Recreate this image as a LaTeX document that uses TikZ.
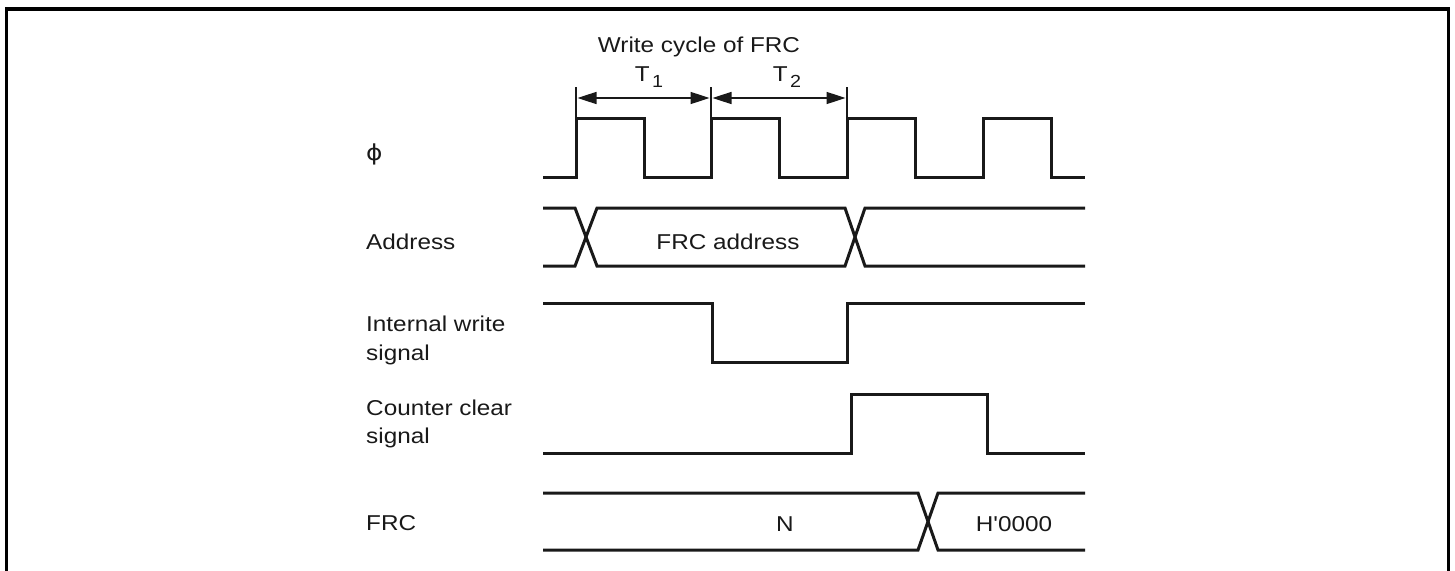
\documentclass[tikz,border=0pt]{standalone}
\usepackage{fontspec}
\setmainfont{Liberation Sans}
\newfontfamily\phifont{DejaVu Sans}
\usetikzlibrary{arrows.meta}
\begin{document}
\begin{tikzpicture}[x=1pt,y=-1pt,
  wave/.style={line width=3pt, line join=miter, color=black!90},
  frameline/.style={line width=3.4pt, line join=miter},
  tickline/.style={line width=1.3pt, color=black!90},
  dimarrow/.style={line width=1.6pt, color=black!90,
    {Triangle[length=19pt,width=12pt]}-{Triangle[length=19pt,width=12pt]},
    shorten <=1.5pt, shorten >=1.5pt},
  lbl/.style={font=\fontsize{21.5}{25}\selectfont, inner sep=0pt, xscale=1.13,
    anchor=base west, text=black!90},
  ctr/.style={font=\fontsize{21.5}{25}\selectfont, inner sep=0pt, xscale=1.13,
    anchor=base, text=black!90}]
\useasboundingbox (0,0) rectangle (1455,570);
% frame
\draw[frameline] (6.3,575) -- (6.3,9) -- (1448.5,9) -- (1448.5,575);

% labels
\node[lbl] (lphi) at (366,160) {\phifont\fontsize{22}{24}\selectfont ϕ};
\node[lbl] (laddr) at (366,249) {Address};
\node[lbl] (liw1) at (366,331) {Internal write};
\node[lbl] (liw2) at (366,360) {signal};
\node[lbl] (lcc1) at (366,415) {Counter clear};
\node[lbl] (lcc2) at (366,443) {signal};
\node[lbl] (lfrc) at (366,530) {FRC};

% title and dimension
\node[ctr] (title) at (699,52) {Write cycle of FRC};
\node[ctr] (tone) at (649,81) {T\hspace{2pt}\raisebox{-6pt}{\fontsize{17.5}{17}\selectfont 1}};
\node[ctr] (ttwo) at (787,81) {T\hspace{2pt}\raisebox{-6pt}{\fontsize{17.5}{17}\selectfont 2}};
\coordinate (k1a) at (576,87); \coordinate (k1b) at (576,118);
\coordinate (k2a) at (711,87); \coordinate (k2b) at (711,118);
\coordinate (k3a) at (847,87); \coordinate (k3b) at (847,118);
\draw[tickline] (k1a) -- (k1b);
\draw[tickline] (k2a) -- (k2b);
\draw[tickline] (k3a) -- (k3b);
\coordinate (d1) at (576,98);
\coordinate (d2) at (711,98);
\coordinate (d3) at (847,98);
\draw[dimarrow] (d1) -- (d2);
\draw[dimarrow] (d2) -- (d3);

% clock
\draw[wave] (543,177) -- (576,177) -- (576,118) -- (644,118) -- (644,177)
  -- (711,177) -- (711,118) -- (779,118) -- (779,177) -- (847,177)
  -- (847,118) -- (915,118) -- (915,177) -- (983,177) -- (983,118)
  -- (1051,118) -- (1051,177) -- (1085,177);

% address bus
\draw[wave] (543,208) -- (575,208) -- (597,266) -- (845,266) -- (865,208) -- (1085,208);
\draw[wave] (543,266) -- (575,266) -- (597,208) -- (845,208) -- (865,266) -- (1085,266);
\node[ctr] (addrtxt) at (728,249) {FRC address};

% internal write signal
\draw[wave] (543,303) -- (712,303) -- (712,362) -- (847,362) -- (847,303) -- (1085,303);

% counter clear signal
\draw[wave] (543,453) -- (851,453) -- (851,394) -- (987,394) -- (987,453) -- (1085,453);

% FRC
\draw[wave] (543,493) -- (918,493) -- (938,550) -- (1085,550);
\draw[wave] (543,550) -- (918,550) -- (938,493) -- (1085,493);
\node[ctr] (ntxt) at (785,531) {N};
\node[ctr] (htxt) at (1014,531) {H\textquotesingle 0000};
\end{tikzpicture}
\end{document}
